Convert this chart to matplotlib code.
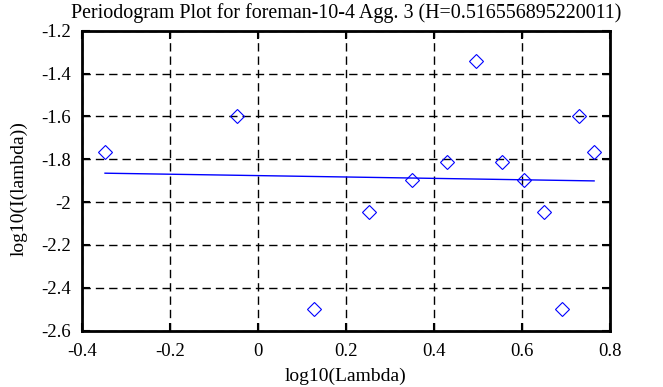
import numpy as np
import matplotlib.pyplot as plt

# periodogram points (log10 lambda, log10 I(lambda))
log_lambda = [-0.347, -0.047, 0.128, 0.253, 0.351, 0.430, 0.496,
              0.555, 0.605, 0.651, 0.692, 0.730, 0.764]
log_I = [-1.768, -1.597, -2.500, -2.045, -1.898, -1.811, -1.343,
         -1.813, -1.898, -2.045, -2.500, -1.597, -1.768]

# least squares fit line end points
fit_x = [-0.347, 0.764]
fit_y = [-1.865, -1.901]

H = 0.516556895220011

xticks = [-0.4, -0.2, 0, 0.2, 0.4, 0.6, 0.8]
xtick_labels = ['-0.4', '-0.2', '0', '0.2', '0.4', '0.6', '0.8']
yticks = [-2.6, -2.4, -2.2, -2.0, -1.8, -1.6, -1.4, -1.2]
ytick_labels = ['-2.6', '-2.4', '-2.2', '-2', '-1.8', '-1.6', '-1.4', '-1.2']

plt.rcParams['font.family'] = ['Liberation Serif', 'DejaVu Serif']

fig = plt.figure(figsize=(6.63, 3.87), dpi=100)
ax = fig.add_axes([0.1232, 0.1455, 0.7968, 0.7752])

ax.plot(log_lambda, log_I, 'D', color='blue', markerfacecolor='none',
        markersize=7.5, markeredgewidth=0.8)
ax.plot(fit_x, fit_y, '-', color='blue', linewidth=1.0)

ax.set_xlim(-0.4, 0.8)
ax.set_ylim(-2.6, -1.2)
ax.set_xticks(xticks)
ax.set_yticks(yticks)
ax.set_xticklabels(xtick_labels)
ax.set_yticklabels(ytick_labels)

ax.grid(True, color='black', linestyle=(0, (6, 3.6)), linewidth=1.0)
ax.tick_params(direction='in', top=True, right=True, length=6, width=1.5,
               labelsize=13.5)
ax.tick_params(axis='x', pad=9)
ax.tick_params(axis='y', pad=8)
for s in ax.spines.values():
    s.set_linewidth(2)

ax.set_title('Periodogram Plot for foreman-10-4 Agg. 3 (H=%s)' % repr(H),
             fontsize=14.4, pad=9)
ax.set_xlabel('log10(Lambda)', fontsize=14, va='center')
ax.set_ylabel('log10(I(lambda))', fontsize=14, va='center')
ax.xaxis.set_label_coords(0.5, -0.151)
ax.yaxis.set_label_coords(-0.1187, 0.474)

plt.savefig('out.png')
